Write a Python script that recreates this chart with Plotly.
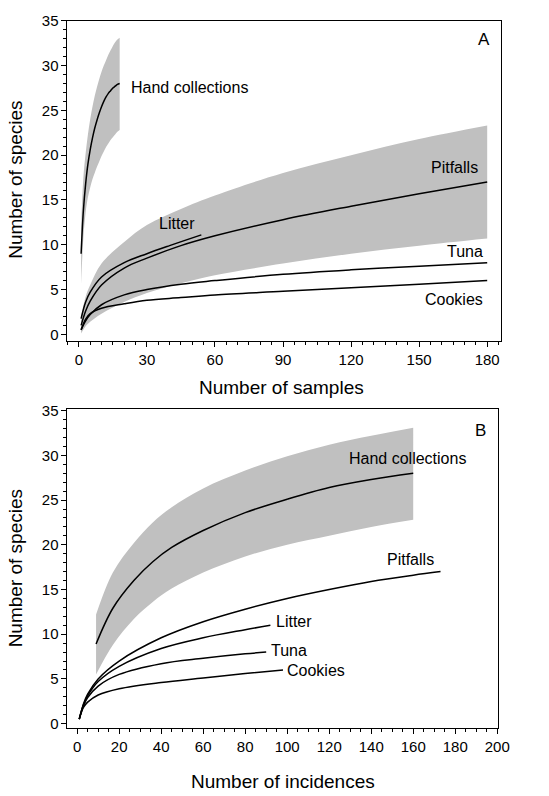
import plotly.graph_objects as go

# ---------------- Panel A: number of samples ----------------
A_hand_x = [1, 2, 3, 4, 5, 6, 7, 8, 9, 10, 11, 12, 13, 14, 15, 16, 17, 18]
A_hand_mean = [9.0, 13.8, 16.8, 19.0, 20.6, 21.9, 23.0, 23.9, 24.7, 25.4, 26.0, 26.5, 26.9, 27.2, 27.5, 27.7, 27.9, 28.0]
A_hand_upper = [12.0, 17.5, 20.2, 22.3, 24.0, 25.4, 26.6, 27.6, 28.5, 29.3, 30.0, 30.6, 31.2, 31.7, 32.2, 32.6, 32.9, 33.1]
A_hand_lower = [5.6, 10.8, 13.6, 15.3, 16.4, 17.3, 18.0, 18.7, 19.3, 19.9, 20.4, 20.9, 21.3, 21.7, 22.0, 22.3, 22.6, 22.8]

A_pit_x = [1, 3, 5, 10, 20, 30, 45, 60, 90, 120, 150, 180]
A_pit_mean = [1.0, 2.6, 3.7, 5.5, 7.4, 8.5, 9.9, 11.0, 12.8, 14.3, 15.7, 17.0]
A_pit_upper = [2.0, 4.2, 5.5, 7.9, 10.3, 12.2, 14.0, 15.5, 18.0, 20.0, 21.8, 23.3]
A_pit_lower = [0.1, 0.9, 1.4, 2.3, 3.6, 4.6, 5.7, 6.6, 7.9, 9.0, 9.9, 10.7]

A_lit_x = [1, 3, 5, 10, 20, 30, 40, 54]
A_lit_y = [1.75, 3.6, 4.7, 6.4, 8.0, 9.0, 9.9, 11.1]

A_tuna_x = [1, 3, 5, 10, 20, 30, 45, 60, 90, 120, 150, 180]
A_tuna_y = [0.5, 1.5, 2.2, 3.3, 4.4, 5.0, 5.6, 6.0, 6.7, 7.2, 7.6, 8.0]
A_cook_x = [1, 3, 5, 10, 20, 30, 45, 60, 90, 120, 150, 180]
A_cook_y = [0.5, 1.7, 2.3, 2.9, 3.4, 3.8, 4.1, 4.4, 4.8, 5.2, 5.6, 6.0]

# ---------------- Panel B: number of incidences ----------------
B_hand_x = [9, 17, 27, 36, 45, 60, 80, 100, 120, 140, 160]
B_hand_mean = [8.9, 12.9, 16.0, 18.1, 19.7, 21.6, 23.6, 25.1, 26.4, 27.3, 28.0]
B_hand_upper = [12.2, 16.9, 20.2, 22.5, 24.2, 26.3, 28.3, 29.9, 31.2, 32.2, 33.1]
B_hand_lower = [5.5, 8.8, 11.7, 13.6, 15.1, 16.9, 18.7, 20.0, 21.0, 22.0, 22.8]

B_pit_x = [1, 3, 5, 10, 20, 40, 60, 80, 100, 120, 140, 160, 173]
B_pit_y = [0.5, 2.2, 3.3, 5.0, 7.0, 9.6, 11.4, 12.8, 14.0, 15.0, 15.9, 16.6, 17.0]
B_lit_x = [1, 3, 5, 10, 20, 40, 60, 80, 92]
B_lit_y = [0.5, 2.1, 3.1, 4.7, 6.4, 8.4, 9.6, 10.5, 11.0]
B_tuna_x = [1, 3, 5, 10, 20, 40, 60, 80, 90]
B_tuna_y = [0.5, 2.0, 2.9, 4.2, 5.5, 6.7, 7.3, 7.8, 8.0]
B_cook_x = [1, 3, 5, 10, 20, 40, 60, 80, 98]
B_cook_y = [0.5, 1.8, 2.4, 3.2, 3.9, 4.6, 5.1, 5.6, 6.0]

# Labels (text, x, y, anchor)
A_labels = [("Hand collections", 21.9, 27.5, "left"), ("Litter", 43.4, 12.4, "center"),
            ("Pitfalls", 165.5, 18.6, "center"), ("Tuna", 170.2, 9.3, "center"),
            ("Cookies", 165.5, 3.9, "center")]
B_labels = [("Hand collections", 157.4, 29.6, "center"), ("Pitfalls", 158.7, 18.4, "center"),
            ("Litter", 103.2, 11.4, "center"), ("Tuna", 100.9, 8.2, "center"),
            ("Cookies", 113.6, 5.9, "center")]

BAND = "#c0c0c0"
FONT = "Liberation Sans, Arial, sans-serif"

fig = go.Figure()


def band(x, lo, hi, xa, ya):
    fig.add_trace(go.Scatter(x=x, y=lo, mode="lines", line=dict(width=0, shape="spline"),
                             xaxis=xa, yaxis=ya, showlegend=False, hoverinfo="skip"))
    fig.add_trace(go.Scatter(x=x, y=hi, mode="lines", line=dict(width=0, shape="spline"),
                             fill="tonexty", fillcolor=BAND, xaxis=xa, yaxis=ya,
                             showlegend=False, hoverinfo="skip"))


def curve(x, y, xa, ya):
    fig.add_trace(go.Scatter(x=x, y=y, mode="lines", line=dict(color="black", width=1.5, shape="spline"),
                             xaxis=xa, yaxis=ya, showlegend=False))


band(A_hand_x, A_hand_lower, A_hand_upper, "x", "y")
band(A_pit_x, A_pit_lower, A_pit_upper, "x", "y")
curve(A_hand_x, A_hand_mean, "x", "y")
curve(A_pit_x, A_pit_mean, "x", "y")
curve(A_lit_x, A_lit_y, "x", "y")
curve(A_tuna_x, A_tuna_y, "x", "y")
curve(A_cook_x, A_cook_y, "x", "y")

band(B_hand_x, B_hand_lower, B_hand_upper, "x2", "y2")
curve(B_hand_x, B_hand_mean, "x2", "y2")
curve(B_pit_x, B_pit_y, "x2", "y2")
curve(B_lit_x, B_lit_y, "x2", "y2")
curve(B_tuna_x, B_tuna_y, "x2", "y2")
curve(B_cook_x, B_cook_y, "x2", "y2")

W, H = 549, 796

axis_common = dict(showline=True, linecolor="black", linewidth=1, mirror=True, showgrid=False,
                   zeroline=False, ticks="outside", ticklen=5, tickwidth=1, tickcolor="black",
                   tickfont=dict(family=FONT, size=15, color="black"))
minor_x = dict(dtick=5, tick0=0, ticklen=3, ticks="outside", tickcolor="black")
minor_y = dict(dtick=1, tick0=0, ticklen=3, ticks="outside", tickcolor="black")

LBL = dict(family=FONT, size=16, color="black")
TTL = dict(family=FONT, size=19, color="black")

annotations = []
for t, x, y, al in A_labels:
    annotations.append(dict(text=t, x=x, y=y, xref="x", yref="y", showarrow=False,
                            xanchor=al, yanchor="middle", font=LBL))
for t, x, y, al in B_labels:
    annotations.append(dict(text=t, x=x, y=y, xref="x2", yref="y2", showarrow=False,
                            xanchor=al, yanchor="middle", font=LBL))
annotations += [
    dict(text="A", x=178.8, y=32.9, xref="x", yref="y", showarrow=False,
         xanchor="center", yanchor="middle", font=dict(family=FONT, size=17, color="black")),
    dict(text="B", x=192.0, y=32.8, xref="x2", yref="y2", showarrow=False,
         xanchor="center", yanchor="middle", font=dict(family=FONT, size=17, color="black")),
    dict(text="Number of species", x=16 / W, y=1 - 174 / H, xref="paper", yref="paper",
         showarrow=False, textangle=-90, xanchor="center", yanchor="middle", font=TTL),
    dict(text="Number of species", x=16 / W, y=1 - 569 / H, xref="paper", yref="paper",
         showarrow=False, textangle=-90, xanchor="center", yanchor="middle", font=TTL),
    dict(text="Number of samples", x=288 / W, y=1 - 385 / H, xref="paper", yref="paper",
         showarrow=False, xanchor="center", yanchor="middle", font=TTL),
    dict(text="Number of incidences", x=289 / W, y=1 - 785 / H, xref="paper", yref="paper",
         showarrow=False, xanchor="center", yanchor="middle", font=TTL),
]

fig.update_layout(
    width=W, height=H, margin=dict(l=0, r=0, t=0, b=0),
    paper_bgcolor="white", plot_bgcolor="white",
    xaxis=dict(**axis_common, domain=[69 / W, 512 / W], range=[-5, 186], anchor="y",
               tickvals=[0, 30, 60, 90, 120, 150, 180], minor=minor_x),
    yaxis=dict(**axis_common, domain=[1 - 338 / H, 1 - 12 / H], range=[-0.8, 35], anchor="x",
               tickvals=[0, 5, 10, 15, 20, 25, 30, 35], minor=minor_y),
    xaxis2=dict(**axis_common, domain=[69 / W, 509 / W], range=[-4.6, 200.3], anchor="y2",
                tickvals=list(range(0, 201, 20)), minor=minor_x),
    yaxis2=dict(**axis_common, domain=[1 - 731 / H, 1 - 407 / H], range=[-0.5, 35.15], anchor="x2",
                tickvals=[0, 5, 10, 15, 20, 25, 30, 35], minor=minor_y),
    annotations=annotations,
)

fig.write_html("out.html")
